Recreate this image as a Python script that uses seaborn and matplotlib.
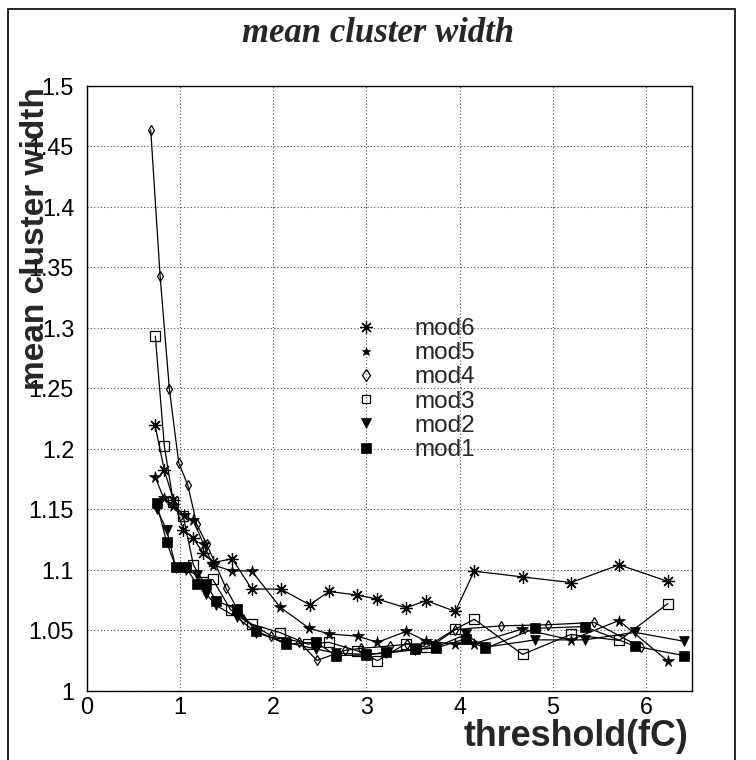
import matplotlib
matplotlib.use("Agg")
import matplotlib.pyplot as plt
from matplotlib.lines import Line2D
from matplotlib.patches import Rectangle
from matplotlib.ticker import FixedLocator, FixedFormatter, MultipleLocator
import seaborn as sns

# ---- data: mean cluster width vs. threshold for six modules ----
modules = ["mod6", "mod5", "mod4", "mod3", "mod2", "mod1"]

mod6_x = [0.735, 0.835, 0.931, 1.039, 1.139, 1.253, 1.361, 1.563, 1.772, 2.083, 2.394,
          2.602, 2.906, 3.120, 3.428, 3.642, 3.954, 4.158, 4.676, 5.195, 5.713, 6.236]
mod6_y = [1.2195, 1.182, 1.158, 1.133, 1.1266, 1.1136, 1.106, 1.109, 1.084, 1.084, 1.071,
          1.082, 1.079, 1.0757, 1.0685, 1.0745, 1.0655, 1.0988, 1.094, 1.0894, 1.104, 1.0903]

mod5_x = [0.735, 0.828, 0.931, 1.042, 1.143, 1.256, 1.354, 1.558, 1.772, 2.076, 2.390,
          2.600, 2.908, 3.120, 3.428, 3.642, 3.954, 4.160, 4.674, 5.195, 5.709, 6.234]
mod5_y = [1.177, 1.159, 1.153, 1.145, 1.141, 1.121, 1.104, 1.099, 1.099, 1.069, 1.0515,
          1.047, 1.045, 1.040, 1.049, 1.041, 1.0385, 1.039, 1.051, 1.042, 1.058, 1.0245]

mod4_x = [0.689, 0.789, 0.889, 0.989, 1.086, 1.182, 1.290, 1.497, 1.678, 1.980, 2.283,
          2.470, 2.770, 2.940, 3.256, 3.440, 3.740, 3.954, 4.444, 4.946, 5.445, 5.948]
mod4_y = [1.4634, 1.343, 1.249, 1.1885, 1.170, 1.1375, 1.121, 1.0845, 1.059, 1.0454, 1.0404,
          1.0250, 1.0333, 1.035, 1.037, 1.0385, 1.039, 1.0505, 1.0536, 1.0545, 1.0564, 1.0358]

mod3_x = [0.738, 0.835, 0.931, 1.039, 1.146, 1.253, 1.354, 1.545, 1.772, 2.076, 2.375,
          2.598, 2.905, 3.120, 3.428, 3.643, 3.954, 4.160, 4.676, 5.195, 5.713, 6.234]
mod3_y = [1.293, 1.202, 1.156, 1.144, 1.104, 1.090, 1.092, 1.067, 1.055, 1.048, 1.0385,
          1.040, 1.033, 1.0248, 1.039, 1.036, 1.051, 1.059, 1.030, 1.0465, 1.0415, 1.072]

mod2_x = [0.753, 0.860, 0.960, 1.068, 1.182, 1.282, 1.389, 1.612, 1.819, 2.137, 2.459,
          2.677, 2.999, 3.215, 3.525, 3.750, 4.065, 4.276, 4.812, 5.341, 5.880, 6.412]
mod2_y = [1.150, 1.133, 1.101, 1.100, 1.0958, 1.080, 1.0705, 1.0606, 1.048, 1.040, 1.0345,
          1.031, 1.030, 1.031, 1.034, 1.036, 1.0465, 1.036, 1.042, 1.042, 1.0482, 1.0408]

mod1_x = [0.753, 0.860, 0.960, 1.068, 1.182, 1.282, 1.389, 1.612, 1.819, 2.137, 2.459,
          2.677, 2.999, 3.215, 3.525, 3.750, 4.065, 4.276, 4.812, 5.341, 5.880, 6.412]
mod1_y = [1.155, 1.1225, 1.102, 1.102, 1.088, 1.0885, 1.0743, 1.0674, 1.0495, 1.0385, 1.040,
          1.029, 1.0295, 1.032, 1.0342, 1.0352, 1.043, 1.035, 1.0515, 1.053, 1.0368, 1.0289]

series = {
    "mod6": (mod6_x, mod6_y),
    "mod5": (mod5_x, mod5_y),
    "mod4": (mod4_x, mod4_y),
    "mod3": (mod3_x, mod3_y),
    "mod2": (mod2_x, mod2_y),
    "mod1": (mod1_x, mod1_y),
}

x_ticks = [0, 1, 2, 3, 4, 5, 6]
x_tick_labels = ["0", "1", "2", "3", "4", "5", "6"]
y_ticks = [1.0, 1.05, 1.1, 1.15, 1.2, 1.25, 1.3, 1.35, 1.4, 1.45, 1.5]
y_tick_labels = ["1", "1.05", "1.1", "1.15", "1.2", "1.25", "1.3", "1.35", "1.4", "1.45", "1.5"]

title = "mean cluster width"
x_label = "threshold(fC)"
y_label = "mean cluster width"

# ---- marker styles per module ----
marker_style = {
    "mod6": dict(marker=(8, 2, 0), markersize=9.0, markerfacecolor="none", markeredgewidth=0.9),
    "mod5": dict(marker="*", markersize=8.5, markerfacecolor="black", markeredgewidth=0.5),
    "mod4": dict(marker="d", markersize=5.3, markerfacecolor="none", markeredgewidth=0.9),
    "mod3": dict(marker="s", markersize=7.5, markerfacecolor="none", markeredgewidth=0.9),
    "mod2": dict(marker="v", markersize=7.0, markerfacecolor="black", markeredgewidth=0.5),
    "mod1": dict(marker="s", markersize=7.0, markerfacecolor="black", markeredgewidth=0.5),
}
legend_scale = {"mod6": 1.0, "mod5": 0.75, "mod4": 1.15, "mod3": 0.85, "mod2": 0.95, "mod1": 1.0}

sns.set_style("white")
plt.rcParams["font.family"] = ["Liberation Sans", "DejaVu Sans"]

W, H = 756, 760
fig = plt.figure(figsize=(W / 100, H / 100), dpi=100)
ax_l, ax_r, ax_t, ax_b = 86.5, 691.7, 85.7, 690.7
ax = fig.add_axes([ax_l / W, 1 - ax_b / H, (ax_r - ax_l) / W, (ax_b - ax_t) / H])

for name in modules:
    xs, ys = series[name]
    sns.lineplot(x=xs, y=ys, ax=ax, color="black", linewidth=0.9,
                 markeredgecolor="black", legend=False, **marker_style[name])

ax.set_xlim(0, 6.49)
ax.set_ylim(1.0, 1.5)
ax.set_xlabel("")
ax.set_ylabel("")

ax.xaxis.set_major_locator(FixedLocator(x_ticks))
ax.xaxis.set_major_formatter(FixedFormatter(x_tick_labels))
ax.yaxis.set_major_locator(FixedLocator(y_ticks))
ax.yaxis.set_major_formatter(FixedFormatter(y_tick_labels))
ax.xaxis.set_minor_locator(MultipleLocator(0.2))
ax.yaxis.set_minor_locator(MultipleLocator(0.01))

ax.tick_params(which="both", direction="in", top=False, right=False, width=0.8, colors="black")
ax.tick_params(which="major", length=9, labelsize=16.8)
ax.tick_params(which="minor", length=4.5)
ax.tick_params(axis="y", which="major", pad=9)
ax.tick_params(axis="x", which="major", pad=4)

ax.grid(True, which="major", color="0.3", linestyle=(0, (1, 2)), linewidth=0.8)
for sp in ax.spines.values():
    sp.set_visible(True)
    sp.set_color("black")
    sp.set_linewidth(1.0)

# legend: markers only, no frame
handles = []
for name in modules:
    st = dict(marker_style[name])
    st["markersize"] = st["markersize"] * legend_scale[name]
    handles.append(Line2D([], [], linestyle="none", color="black",
                          markeredgecolor="black", **st))
leg_fs = 17.5
em = leg_fs * 100 / 72
leg_left = (366 - em / 2 - ax_l) / (ax_r - ax_l)
leg_top = 1 - (318 - ax_t) / (ax_b - ax_t)
ax.legend(handles, modules, loc="upper left", bbox_to_anchor=(leg_left, leg_top),
          frameon=False, fontsize=leg_fs, handlelength=1.0,
          handletextpad=(414 - 366 - em / 2) / em,
          labelspacing=0.09, borderpad=0.0, borderaxespad=0.0)

# titles and axis labels
fig.text(0.5, 1 - 33 / H, title, ha="center", va="center", fontsize=25,
         family=["Liberation Serif", "DejaVu Serif"], weight="bold", style="italic")
fig.text(688 / W, 1 - 737 / H, x_label, ha="right", va="center", fontsize=25.8,
         weight="bold")
fig.text(36 / W, 1 - 87 / H, y_label, ha="center", va="top", rotation=90,
         fontsize=24, weight="bold")

# outer canvas frame
fig.patches.append(Rectangle((8 / W, -0.05), (735 - 8) / W, 1.05 - 9 / H,
                             transform=fig.transFigure, fill=False,
                             edgecolor="black", linewidth=1.2))

fig.savefig("out.png", dpi=100, facecolor="white")
